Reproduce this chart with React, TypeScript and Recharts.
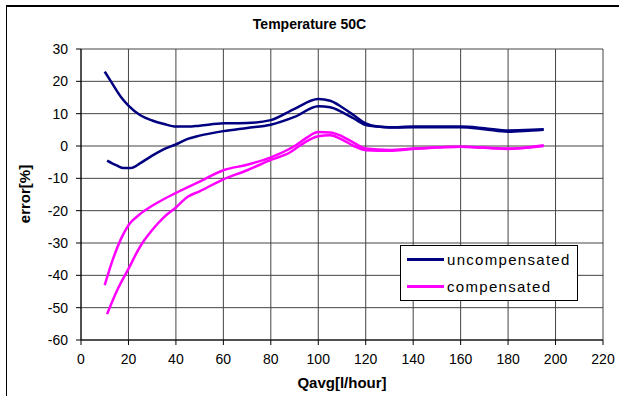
import React from 'react';
import { LineChart, Line, XAxis, YAxis, CartesianGrid, Legend } from 'recharts';

const xTicks = [0, 20, 40, 60, 80, 100, 120, 140, 160, 180, 200, 220];
const yTicks = [-60, -50, -40, -30, -20, -10, 0, 10, 20, 30];

// uncompensated, run 1 (upper start)
const uncompA = [
  { x: 10, y: 23 }, { x: 13, y: 19.5 }, { x: 17, y: 15 }, { x: 20, y: 12.5 }, { x: 25, y: 9.5 },
  { x: 30, y: 7.9 }, { x: 35, y: 6.8 }, { x: 40, y: 6 }, { x: 45, y: 6 }, { x: 50, y: 6.3 },
  { x: 60, y: 7 }, { x: 70, y: 7.1 }, { x: 80, y: 8 }, { x: 90, y: 11.5 }, { x: 100, y: 14.5 },
  { x: 105, y: 14 }, { x: 110, y: 12 }, { x: 115, y: 9.5 }, { x: 120, y: 7 }, { x: 125, y: 6 },
  { x: 130, y: 5.8 }, { x: 140, y: 6 }, { x: 160, y: 6 }, { x: 170, y: 5.5 }, { x: 180, y: 4.8 },
  { x: 190, y: 5 }, { x: 195, y: 5.2 },
];
// uncompensated, run 2 (lower start)
const uncompB = [
  { x: 11, y: -4.5 }, { x: 15, y: -6 }, { x: 18, y: -6.8 }, { x: 21, y: -6.8 }, { x: 25, y: -5.3 },
  { x: 30, y: -3 }, { x: 35, y: -1 }, { x: 40, y: 0.5 }, { x: 45, y: 2.2 }, { x: 50, y: 3.2 },
  { x: 60, y: 4.6 }, { x: 70, y: 5.6 }, { x: 80, y: 6.6 }, { x: 90, y: 9 }, { x: 100, y: 12.3 },
  { x: 105, y: 12 }, { x: 110, y: 10.5 }, { x: 115, y: 8.5 }, { x: 120, y: 6.5 }, { x: 125, y: 6 },
  { x: 130, y: 5.7 }, { x: 140, y: 5.8 }, { x: 160, y: 5.8 }, { x: 170, y: 5.2 }, { x: 180, y: 4.4 },
  { x: 190, y: 4.8 }, { x: 195, y: 5 },
];
// compensated, run 1 (upper start)
const compA = [
  { x: 10, y: -43 }, { x: 13, y: -36 }, { x: 17, y: -28.5 }, { x: 20, y: -24.5 }, { x: 25, y: -21 },
  { x: 30, y: -18.5 }, { x: 40, y: -14.5 }, { x: 50, y: -11 }, { x: 60, y: -7.5 }, { x: 70, y: -5.8 },
  { x: 80, y: -3.5 }, { x: 90, y: 0 }, { x: 95, y: 2.5 }, { x: 100, y: 4.3 }, { x: 105, y: 4.2 },
  { x: 110, y: 3 }, { x: 115, y: 1 }, { x: 120, y: -0.8 }, { x: 130, y: -1.2 }, { x: 140, y: -0.8 },
  { x: 160, y: -0.2 }, { x: 180, y: -0.8 }, { x: 195, y: 0 },
];
// compensated, run 2 (lower start)
const compB = [
  { x: 11, y: -52 }, { x: 15, y: -45 }, { x: 20, y: -38 }, { x: 25, y: -31 }, { x: 30, y: -26 },
  { x: 35, y: -22 }, { x: 40, y: -19 }, { x: 45, y: -15.7 }, { x: 50, y: -14 }, { x: 60, y: -10.3 },
  { x: 70, y: -7.5 }, { x: 80, y: -4.3 }, { x: 88, y: -2 }, { x: 92, y: 0 }, { x: 100, y: 3 },
  { x: 105, y: 3.3 }, { x: 110, y: 2 }, { x: 115, y: 0 }, { x: 120, y: -1.3 }, { x: 130, y: -1.5 },
  { x: 140, y: -0.9 }, { x: 160, y: -0.2 }, { x: 180, y: -0.9 }, { x: 195, y: 0.2 },
];

const legendItems = [
  { name: 'uncompensated', color: '#000080' },
  { name: 'compensated', color: '#FF00FF' },
];

const FONT = '"Liberation Sans", Arial, sans-serif';

const LegendBox = () => (
  <div
    style={{
      width: 176,
      height: 54,
      border: '1px solid #000',
      background: '#fff',
      fontFamily: FONT,
      fontSize: 15,
      letterSpacing: 1.3,
      boxSizing: 'content-box',
    }}
  >
    {legendItems.map((it) => (
      <div key={it.name} style={{ display: 'flex', alignItems: 'center', height: 27, paddingLeft: 6 }}>
        <div style={{ width: 37, height: 3, background: it.color, marginRight: 3 }} />
        <span style={{ lineHeight: '27px' }}>{it.name}</span>
      </div>
    ))}
  </div>
);

export default function App() {
  return (
    <div style={{ position: 'absolute', left: 0, top: 0, width: 619, height: 396, background: '#fff', overflow: 'hidden' }}>
      <div
        style={{
          position: 'absolute', left: 6, top: 5, width: 640, height: 420,
          borderLeft: '1px solid #000', borderTop: '2px solid #000',
        }}
      />
      <div
        style={{
          position: 'absolute', left: 0, top: 16, width: 619, textAlign: 'center',
          fontFamily: FONT, fontWeight: 'bold', fontSize: 14,
        }}
      >
        Temperature 50C
      </div>
      <div style={{ position: 'absolute', left: 0, top: 0 }}>
        <LineChart width={619} height={396} margin={{ top: 49, right: 16, bottom: 0, left: 0 }}>
          <CartesianGrid stroke="#444" strokeWidth={1} />
          <XAxis
            type="number"
            dataKey="x"
            domain={[0, 220]}
            ticks={xTicks}
            interval={0}
            height={56}
            allowDataOverflow
            stroke="#000"
            tickSize={5}
            tickMargin={9}
            tick={{ fill: '#000', fontSize: 14, fontFamily: FONT }}
            label={{
              content: () => (
                <text x={342} y={388} textAnchor="middle" fontFamily={FONT} fontWeight="bold" fontSize={15} fill="#000">
                  Qavg[l/hour]
                </text>
              ),
            }}
          />
          <YAxis
            type="number"
            domain={[-60, 30]}
            ticks={yTicks}
            interval={0}
            width={81}
            allowDataOverflow
            stroke="#000"
            tickSize={5}
            tickMargin={8}
            tick={{ fill: '#000', fontSize: 14, fontFamily: FONT }}
            label={{
              content: () => (
                <text
                  x={30}
                  y={194}
                  transform="rotate(-90 30 194)"
                  textAnchor="middle"
                  fontFamily={FONT}
                  fontWeight="bold"
                  fontSize={15}
                  fill="#000"
                >
                  error[%]
                </text>
              ),
            }}
          />
          <Legend
            content={() => <LegendBox />}
            layout="vertical"
            verticalAlign="middle"
            align="center"
            wrapperStyle={{ position: 'absolute', left: 400, top: 245, width: 178 }}
          />
          <Line data={uncompA} dataKey="y" type="monotone" stroke="#000080" strokeWidth={2.5} dot={false} isAnimationActive={false} name="uncompensated" />
          <Line data={uncompB} dataKey="y" type="monotone" stroke="#000080" strokeWidth={2.5} dot={false} isAnimationActive={false} legendType="none" name="uncompensated 2" />
          <Line data={compA} dataKey="y" type="monotone" stroke="#FF00FF" strokeWidth={2.5} dot={false} isAnimationActive={false} name="compensated" />
          <Line data={compB} dataKey="y" type="monotone" stroke="#FF00FF" strokeWidth={2.5} dot={false} isAnimationActive={false} legendType="none" name="compensated 2" />
        </LineChart>
      </div>
    </div>
  );
}
